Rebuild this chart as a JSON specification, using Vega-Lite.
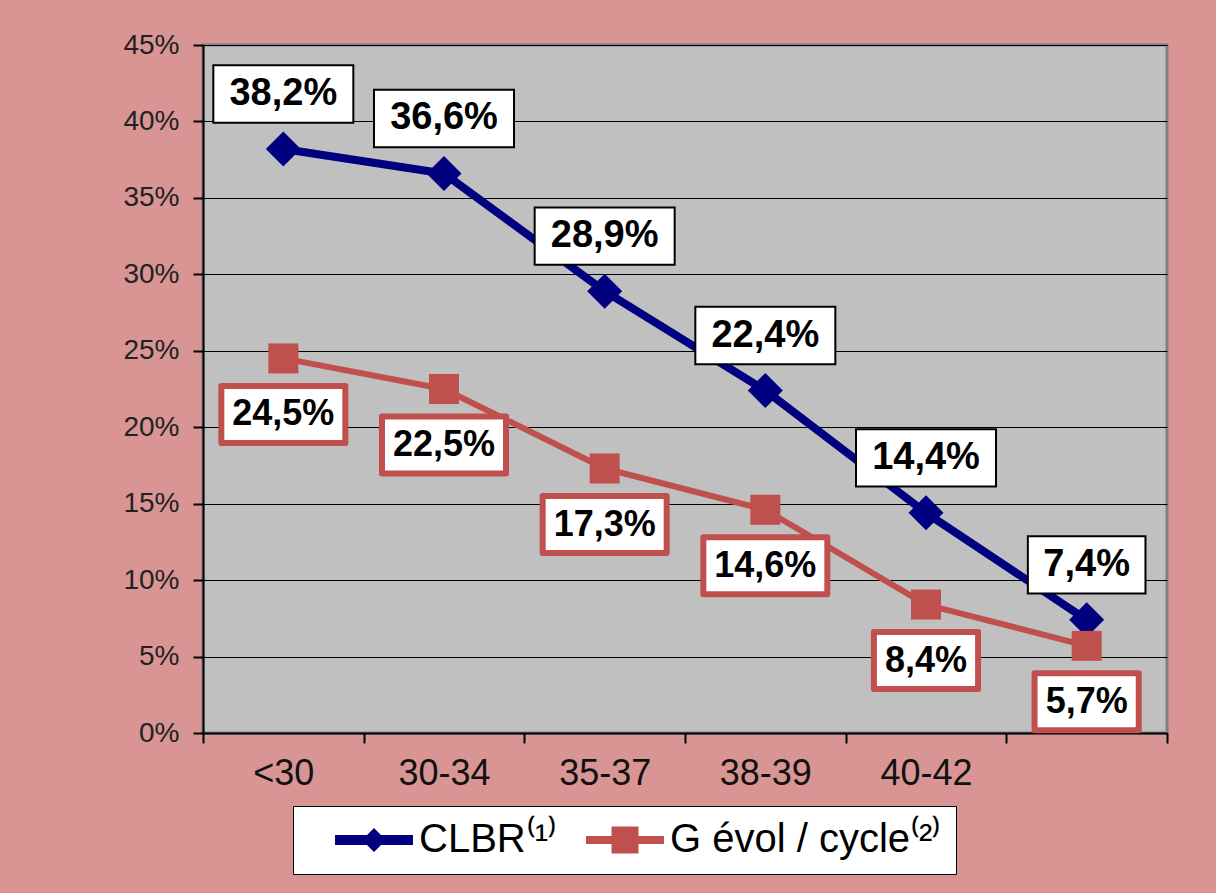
{
  "$schema": "https://vega.github.io/schema/vega-lite/v6.json",
  "width": 964,
  "height": 688,
  "autosize": {"type": "none"},
  "padding": {"left": 203, "top": 45, "right": 49, "bottom": 160},
  "background": "#D99594",
  "config": {
    "locale": {"number": {"decimal": ",", "thousands": " ", "grouping": [3], "currency": ["", " €"]}},
    "view": {"fill": "#C0C0C0", "stroke": "#808080", "strokeWidth": 3},
    "font": "Liberation Sans"
  },
  "data": {
    "values": [
      {"age": "<30", "series": "CLBR", "v": 0.382},
      {"age": "30-34", "series": "CLBR", "v": 0.366},
      {"age": "35-37", "series": "CLBR", "v": 0.289},
      {"age": "38-39", "series": "CLBR", "v": 0.224},
      {"age": "40-42", "series": "CLBR", "v": 0.144},
      {"age": ">42", "series": "CLBR", "v": 0.074},
      {"age": "<30", "series": "G évol / cycle", "v": 0.245},
      {"age": "30-34", "series": "G évol / cycle", "v": 0.225},
      {"age": "35-37", "series": "G évol / cycle", "v": 0.173},
      {"age": "38-39", "series": "G évol / cycle", "v": 0.146},
      {"age": "40-42", "series": "G évol / cycle", "v": 0.084},
      {"age": ">42", "series": "G évol / cycle", "v": 0.057}
    ]
  },
  "encoding": {
    "x": {
      "field": "age",
      "type": "nominal",
      "sort": ["<30", "30-34", "35-37", "38-39", "40-42", ">42"],
      "scale": {"type": "band", "paddingInner": 0, "paddingOuter": 0},
      "axis": {
        "title": null,
        "labelAngle": 0,
        "labelFontSize": 36,
        "labelColor": "#111",
        "labelPadding": 13,
        "tickBand": "extent",
        "tickSize": 10,
        "tickColor": "#000",
        "tickWidth": 2,
        "domainColor": "#000",
        "domainWidth": 2,
        "grid": false,
        "labelExpr": "datum.label == '>42' ? '' : datum.label"
      }
    },
    "y": {
      "field": "v",
      "type": "quantitative",
      "scale": {"domain": [0, 0.45], "nice": false, "zero": true},
      "axis": {
        "title": null,
        "values": [0, 0.05, 0.1, 0.15, 0.2, 0.25, 0.3, 0.35, 0.4, 0.45],
        "format": ".0%",
        "labelFontSize": 28,
        "labelColor": "#222",
        "labelPadding": 14,
        "tickSize": 10,
        "tickColor": "#000",
        "tickWidth": 2,
        "domainColor": "#000",
        "domainWidth": 2,
        "grid": true,
        "gridColor": "#000",
        "gridWidth": 1,
        "gridOpacity": 1
      }
    }
  },
  "layer": [
    {
      "transform": [{"filter": "false"}],
      "mark": {"type": "point", "filled": true, "opacity": 1},
      "encoding": {
        "color": {
          "field": "series",
          "type": "nominal",
          "scale": {"domain": ["CLBR", "G évol / cycle"], "range": ["#000080", "#C0504D"]},
          "legend": {
            "orient": "none",
            "legendX": 90,
            "legendY": 761,
            "direction": "horizontal",
            "title": null,
            "fillColor": "white",
            "strokeColor": "black",
            "padding": 14,
            "symbolSize": 1600,
            "symbolType": {"expr": "datum.value == 'CLBR' ? 'M-1,-0.25H0.6L0.95,-0.6L1.3,-0.25H2.9V0.25H1.3L0.95,0.6L0.6,0.25H-1Z' : 'M-1,-0.2H0.275V-0.675H1.625V-0.2H2.9V0.2H1.625V0.675H0.275V0.2H-1Z'"},
            "symbolStrokeWidth": 0,
            "symbolOpacity": 1,
            "symbolOffset": 28,
            "labelFontSize": 40,
            "labelColor": "#000",
            "labelOffset": 44,
            "columnPadding": -42,
            "labelLimit": 600,
            "labelExpr": "datum.label == 'CLBR' ? 'CLBR⁽¹⁾' : 'G évol / cycle⁽²⁾  '"
          }
        }
      }
    },
    {
      "mark": {"type": "line", "strokeJoin": "round", "strokeCap": "round"},
      "encoding": {
        "detail": {"field": "series"},
        "color": {"condition": {"test": "datum.series == 'CLBR'", "value": "#000080"}, "value": "#C0504D"},
        "strokeWidth": {"condition": {"test": "datum.series == 'CLBR'", "value": 8}, "value": 6}
      }
    },
    {
      "mark": {"type": "point", "filled": true, "opacity": 1},
      "encoding": {
        "color": {"condition": {"test": "datum.series == 'CLBR'", "value": "#000080"}, "value": "#C0504D"},
        "shape": {"condition": {"test": "datum.series == 'CLBR'", "value": "diamond"}, "value": "square"},
        "size": {"condition": {"test": "datum.series == 'CLBR'", "value": 1225}, "value": 900}
      }
    },
    {
      "transform": [{"filter": "datum.series == 'CLBR'"}],
      "mark": {"type": "point", "filled": true, "fill": "white", "stroke": "black", "strokeWidth": 2, "opacity": 1, "fillOpacity": 1, "strokeOpacity": 1, "size": 19600, "yOffset": -55},
      "encoding": {
        "shape": {"condition": {"test": "datum.v < 0.1", "value": "M-0.84,-0.41H0.84V0.41H-0.84Z"}, "value": "M-1,-0.41H1V0.41H-1Z"}
      }
    },
    {
      "transform": [{"filter": "datum.series == 'CLBR'"}],
      "mark": {"type": "text", "fontSize": 38, "fontWeight": "bold", "color": "#000", "baseline": "middle", "align": "center", "yOffset": -55},
      "encoding": {
        "text": {"field": "v", "type": "quantitative", "format": ".1%"}
      }
    },
    {
      "transform": [{"filter": "datum.series != 'CLBR'"}],
      "mark": {"type": "point", "filled": true, "fill": "white", "stroke": "#C0504D", "strokeWidth": 6, "strokeJoin": "round", "opacity": 1, "fillOpacity": 1, "strokeOpacity": 1, "size": 15376, "yOffset": 56},
      "encoding": {
        "shape": {"condition": {"test": "datum.v < 0.1", "value": "M-0.84,-0.46H0.84V0.46H-0.84Z"}, "value": "M-1,-0.46H1V0.46H-1Z"}
      }
    },
    {
      "transform": [{"filter": "datum.series != 'CLBR'"}],
      "mark": {"type": "text", "fontSize": 36, "fontWeight": "bold", "color": "#000", "baseline": "middle", "align": "center", "yOffset": 56},
      "encoding": {
        "text": {"field": "v", "type": "quantitative", "format": ".1%"}
      }
    }
  ]
}
